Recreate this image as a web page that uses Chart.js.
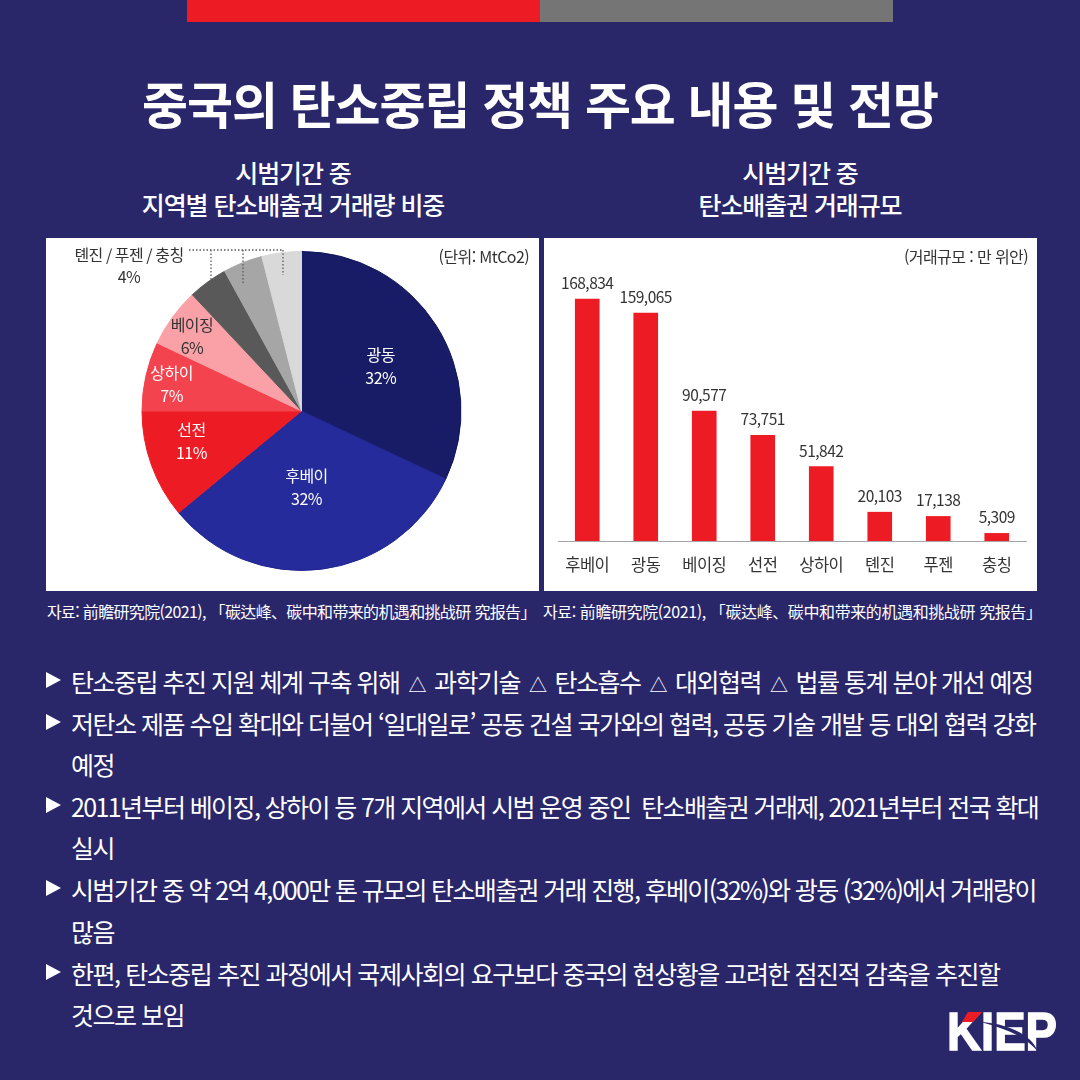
<!DOCTYPE html>
<html lang="ko">
<head>
<meta charset="utf-8">
<title>중국의 탄소중립 정책 주요 내용 및 전망</title>
<script src="https://cdn.jsdelivr.net/npm/chart.js@4"></script>
<style>
  html,body{margin:0;padding:0;}
  body{width:1080px;height:1080px;background:#29266a;position:relative;overflow:hidden;
    font-family:"Noto Sans CJK KR","Noto Sans",sans-serif;color:#fff;}
  .abs{position:absolute;white-space:pre;line-height:1;}
  .panel{position:absolute;top:238px;width:493px;height:353px;background:#fff;}
  .panel canvas{position:absolute;left:0;top:0;}
  .center{transform:translate(-50%,-50%);}
  .unit{color:#333;font-size:16px;letter-spacing:-.6px;top:256px;transform:translateY(-50%);}
  .src{color:#fff;font-size:16px;letter-spacing:-.65px;top:611px;transform:translateY(-50%);}
  .sub{font-size:25px;font-weight:500;letter-spacing:-1.1px;}
  .line{font-size:25px;left:71px;transform:translateY(-50%);}
  .line i{font-style:normal;font-size:18px;margin:0 3.5px;}
  .tri{left:46px;width:0;height:0;border-left:15px solid #fff;border-top:8px solid transparent;border-bottom:8px solid transparent;transform:translateY(-50%);}
</style>
</head>
<body>
<div class="abs" style="left:187px;top:0;width:353px;height:22px;background:#ed1c24"></div>
<div class="abs" style="left:540px;top:0;width:353px;height:22px;background:#757575"></div>

<div class="abs center" id="title" style="left:540px;top:102px;font-size:50px;font-weight:700;letter-spacing:-1.1px">중국의 탄소중립 정책 주요 내용 및 전망</div>

<div class="abs center sub" style="left:293px;top:172px">시범기간 중</div>
<div class="abs center sub" style="left:293px;top:204px">지역별 탄소배출권 거래량 비중</div>
<div class="abs center sub" style="left:800px;top:172px">시범기간 중</div>
<div class="abs center sub" style="left:800px;top:204px">탄소배출권 거래규모</div>

<div class="panel" style="left:46px"><canvas id="pieChart" width="493" height="353"></canvas></div>
<div class="panel" style="left:544px"><canvas id="barChart" width="493" height="353"></canvas></div>
<div class="abs unit" style="right:551px">(단위: MtCo2)</div>
<div class="abs unit" style="right:52px">(거래규모 : 만 위안)</div>

<div class="abs src" style="left:47px">자료: 前瞻研究院(2021), 「碳达峰、碳中和带来的机遇和挑战研 究报告」</div>
<div class="abs src" style="left:543px;letter-spacing:-.4px">자료: 前瞻研究院(2021), 「碳达峰、碳中和带来的机遇和挑战研 究报告」</div>

<div id="bullets"></div>

<svg class="abs" style="left:940px;top:1005px" width="125" height="55" viewBox="940 1005 125 55">
  <text x="947" y="1050" font-family="Liberation Sans" font-weight="700" font-size="54" fill="#fff" stroke="#fff" stroke-width="1.6" textLength="110" lengthAdjust="spacingAndGlyphs">KIEP</text>
  <polygon points="962,1022 968,1012 982,1012 973,1022" fill="#ed1c24"/>
  <path d="M980 1022 C1005 1023 1032 1034 1038 1052 C1028 1038 1005 1028 980 1022Z" fill="#29266a"/>
</svg>

<script>
// ===== 데이터 =====
const pieRegions = ['광동','후베이','선전','상하이','베이징','톈진','푸젠','충칭'];
const pieShares = [32,32,11,7,6,4,4,4];
const pieColors = ['#181c66','#252b9b','#ed1c24','#f2434e','#f9a1a7','#595959','#a6a6a6','#d9d9d9'];
const pieBorders = ['#10145f','#1f2590','#ed1c24','#f2434e','#f9a1a7','#595959','#a6a6a6','#d9d9d9'];
const barRegions = ['후베이','광동','베이징','선전','상하이','톈진','푸젠','충칭'];
const barValues = [168834,159065,90577,73751,51842,20103,17138,5309];

// [세로 위치, 글머리표 여부, 자간, 문장]
const textLines = [
  [681,true,-1.5,'탄소중립 추진 지원 체계 구축 위해 △ 과학기술 △ 탄소흡수 △ 대외협력 △ 법률 통계 분야 개선 예정'],
  [723,true,-1.5,'저탄소 제품 수입 확대와 더불어 ‘일대일로’ 공동 건설 국가와의 협력, 공동 기술 개발 등 대외 협력 강화'],
  [764,false,-1.5,'예정'],
  [806,true,-1.6,'2011년부터 베이징, 상하이 등 7개 지역에서 시범 운영 중인  탄소배출권 거래제, 2021년부터 전국 확대'],
  [847,false,-1.5,'실시'],
  [889,true,-1.65,'시범기간 중 약 2억 4,000만 톤 규모의 탄소배출권 거래 진행, 후베이(32%)와 광둥 (32%)에서 거래량이'],
  [931,false,-1.5,'많음'],
  [973,true,-1.45,'한편, 탄소중립 추진 과정에서 국제사회의 요구보다 중국의 현상황을 고려한 점진적 감축을 추진할'],
  [1014,false,-1.5,'것으로 보임']
];
document.getElementById('bullets').innerHTML = textLines.map(([y,mark,ls,text]) =>
  (mark ? `<div class="abs tri" style="top:${y-1}px"></div>` : '') +
  `<div class="abs line" style="top:${y}px;letter-spacing:${ls}px">${text.replace(/△/g,'<i>△</i>')}</div>`).join('');

const FONT = '"Noto Sans CJK KR","Noto Sans",sans-serif';

// 파이 조각 안쪽 라벨 (조각 중심에서 옮긴 거리)
const pieLabelShift = [[12,-1.5],[-5,-2.4],[-35,3],[-52,-9],[-45,-28]];
const pieLabelColor = ['#fff','#fff','#fff','#fff','#333'];

const pieLabels = {
  id:'pieLabels',
  afterDraw(chart){
    const ctx = chart.ctx;
    const arcs = chart.getDatasetMeta(0).data;
    ctx.save();
    ctx.font = `16px ${FONT}`;
    ctx.letterSpacing = '-0.5px';
    ctx.textAlign = 'center';
    ctx.textBaseline = 'middle';
    pieLabelShift.forEach(([dx,dy],i) => {
      const p = arcs[i].getCenterPoint();
      ctx.fillStyle = pieLabelColor[i];
      ctx.fillText(pieRegions[i], p.x+dx, p.y+dy-11.5);
      ctx.fillText(pieShares[i]+'%', p.x+dx, p.y+dy+11.5);
    });
    // 톈진 / 푸젠 / 충칭 묶음 라벨과 점선
    ctx.fillStyle = '#333';
    ctx.fillText(`${pieRegions[5]} / ${pieRegions[6]} / ${pieRegions[7]}`, 83, 17);
    ctx.fillText(pieShares[5]+'%', 83, 39);
    ctx.strokeStyle = '#595959';
    ctx.lineWidth = 1.3;
    ctx.setLineDash([1.5,2]);
    ctx.beginPath();
    ctx.moveTo(143,12); ctx.lineTo(237,12);
    ctx.moveTo(165,12); ctx.lineTo(165,53);
    ctx.moveTo(197,12); ctx.lineTo(197,46);
    ctx.moveTo(237,12); ctx.lineTo(237,37);
    ctx.stroke();
    ctx.restore();
  }
};

const barLabels = {
  id:'barLabels',
  beforeDraw(chart){ chart.ctx.letterSpacing = '-0.5px'; },
  afterDatasetsDraw(chart){
    const ctx = chart.ctx;
    ctx.save();
    ctx.font = `15.5px ${FONT}`;
    ctx.fillStyle = '#333';
    ctx.textAlign = 'center';
    ctx.textBaseline = 'middle';
    chart.getDatasetMeta(0).data.forEach((bar,i) => {
      ctx.fillText(barValues[i].toLocaleString('en-US'), bar.x, bar.y-16);
    });
    ctx.restore();
  }
};

new Chart(document.getElementById('pieChart'),{
  type:'pie',
  data:{ labels:pieRegions, datasets:[{ data:pieShares, backgroundColor:pieColors, borderColor:pieBorders, borderWidth:1 }] },
  options:{
    responsive:false,
    animation:false,
    layout:{ padding:{ left:95.5, right:77.5, top:13, bottom:20 } },
    plugins:{ legend:{ display:false }, tooltip:{ enabled:false } }
  },
  plugins:[pieLabels]
});

new Chart(document.getElementById('barChart'),{
  type:'bar',
  data:{ labels:barRegions, datasets:[{ data:barValues, backgroundColor:'#ed1c24', barThickness:24 }] },
  options:{
    responsive:false,
    animation:false,
    layout:{ padding:{ left:14, right:11, top:45, bottom:0 } },
    scales:{
      x:{
        afterFit(scale){ scale.height = 50; },
        grid:{ display:false, drawTicks:false },
        border:{ display:true, color:'#a6a6a6', width:1 },
        ticks:{ color:'#333', padding:14, maxRotation:0, font:{ family:FONT, size:16.5 } }
      },
      y:{ display:false, min:0, max:180000 }
    },
    plugins:{ legend:{ display:false }, tooltip:{ enabled:false } }
  },
  plugins:[barLabels]
});
</script>
</body>
</html>
